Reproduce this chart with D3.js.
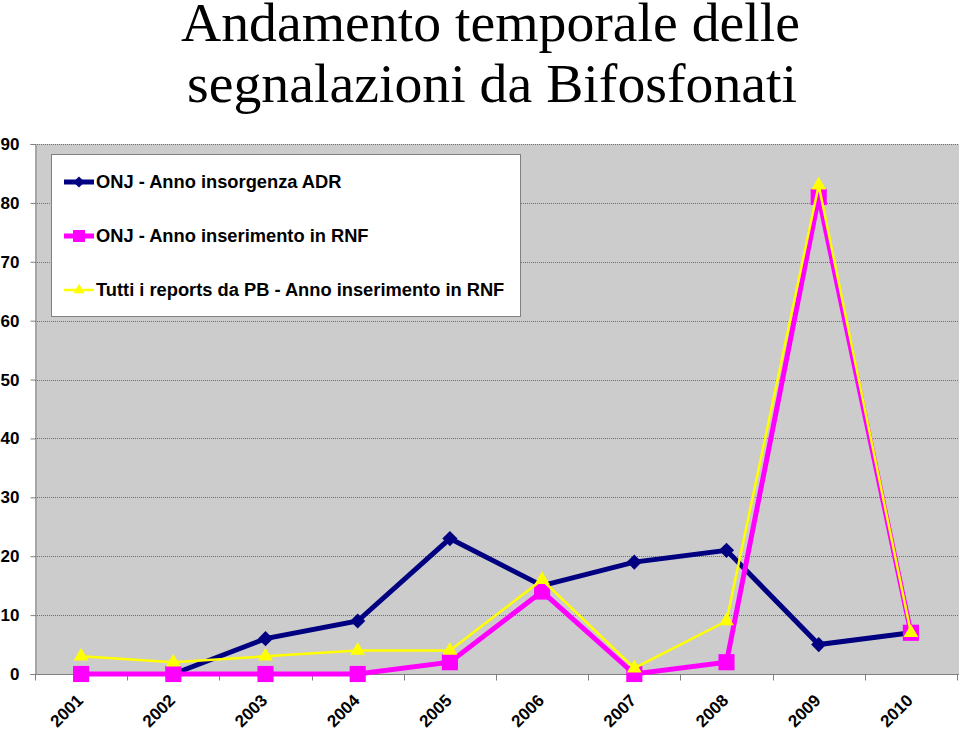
<!DOCTYPE html>
<html>
<head>
<meta charset="utf-8">
<script src="https://cdn.jsdelivr.net/npm/d3@7"></script>
<style>
  body { margin: 0; background: #fff; }
  svg { display: block; }
  .tick-label { font-family: "Liberation Sans", Arial, sans-serif; font-weight: bold; fill: #000; }
</style>
</head>
<body>
<div id="chart"></div>
<script>
// data
const years = ['2001', '2002', '2003', '2004', '2005', '2006', '2007', '2008', '2009', '2010'];
const onjAdr = [null, 0, 6, 9, 23, 15, 19, 21, 5, 7];
const onjRnf = [0, 0, 0, 0, 2, 14, 0, 2, 81, 7];
const tuttiPb = [3, 2, 3, 4, 4, 16, 1, 9, 83, 7];
const yTicks = [0, 10, 20, 30, 40, 50, 60, 70, 80, 90];
const titleLines = ['Andamento temporale delle', 'segnalazioni da Bifosfonati'];

const series = [
    { name: 'ONJ - Anno insorgenza ADR', values: onjAdr, color: '#000080', width: 5, marker: 'diamond', size: 115 },
    { name: 'ONJ - Anno inserimento in RNF', values: onjRnf, color: '#ff00ff', width: 5, marker: 'square', size: 260 },
    { name: 'Tutti i reports da PB - Anno inserimento in RNF', values: tuttiPb, color: '#ffff00', width: 2.5, marker: 'triangle', size: 95 }
];

const width = 959, height = 731;
const plot = { left: 35, right: 957, top: 144, bottom: 674 };

const svg = d3.select('#chart').append('svg')
    .attr('width', width)
    .attr('height', height);

// title
const titleBox = [{ y: 41, x0: 181, len: 619 }, { y: 102, x0: 187, len: 610 }];
svg.selectAll('.title')
    .data(titleLines)
    .enter().append('text')
    .attr('class', 'title')
    .attr('x', (d, i) => titleBox[i].x0)
    .attr('y', (d, i) => titleBox[i].y)
    .attr('textLength', (d, i) => titleBox[i].len)
    .attr('lengthAdjust', 'spacingAndGlyphs')
    .style('font-family', '"Liberation Serif", "Times New Roman", serif')
    .style('font-size', '54px')
    .text(d => d);

// scales
const x = d3.scaleBand().domain(years).range([plot.left, plot.right]);
const y = d3.scaleLinear().domain([0, 90]).range([plot.bottom, plot.top]);

// plot background
svg.append('rect')
    .attr('x', plot.left)
    .attr('y', plot.top)
    .attr('width', width - plot.left)
    .attr('height', plot.bottom - plot.top)
    .attr('fill', '#cccccc');

// gridlines
svg.append('g')
    .selectAll('line')
    .data(yTicks.filter(d => d > 0))
    .enter().append('line')
    .attr('x1', plot.left)
    .attr('x2', width)
    .attr('y1', d => Math.round(y(d)) + 0.5)
    .attr('y2', d => Math.round(y(d)) + 0.5)
    .attr('stroke', '#707070')
    .attr('stroke-width', 1)
    .attr('stroke-dasharray', '1,1');

// y axis
const gy = svg.append('g')
    .attr('transform', `translate(${plot.left + 0.5},0)`)
    .call(d3.axisLeft(y).tickValues(yTicks).tickSize(5).tickPadding(11));
gy.select('.domain').attr('stroke', '#808080');
gy.selectAll('.tick line').attr('stroke', '#808080');
gy.selectAll('.tick text')
    .attr('class', 'tick-label')
    .style('font-size', '17px');

// x axis
const gx = svg.append('g')
    .attr('transform', `translate(0,${plot.bottom + 0.5})`);
gx.append('line')
    .attr('x1', plot.left).attr('x2', width)
    .attr('stroke', '#808080');
gx.selectAll('.xtick')
    .data(years.concat(['end']))
    .enter().append('line')
    .attr('class', 'xtick')
    .attr('x1', d => Math.round(d === 'end' ? plot.right : x(d)) + 0.5)
    .attr('x2', d => Math.round(d === 'end' ? plot.right : x(d)) + 0.5)
    .attr('y1', 0).attr('y2', 6)
    .attr('stroke', '#808080');
gx.selectAll('.xlabel')
    .data(years)
    .enter().append('text')
    .attr('class', 'tick-label')
    .attr('text-anchor', 'end')
    .attr('transform', d => `translate(${x(d) + x.bandwidth() / 2 + 3},${27}) rotate(-45)`)
    .style('font-size', '17px')
    .text(d => d);

// lines + markers
const line = d3.line()
    .defined(d => d.v !== null)
    .x(d => x(d.year) + x.bandwidth() / 2)
    .y(d => y(d.v));

// diamond = square turned 45 degrees (Excel style)
const symbolType = { diamond: d3.symbolSquare, square: d3.symbolSquare, triangle: d3.symbolTriangle };
const symbolRot = { diamond: 45, square: 0, triangle: 0 };

series.forEach(s => {
    const pts = years.map((yr, i) => ({ year: yr, v: s.values[i] }));
    const g = svg.append('g');

    g.append('path')
        .datum(pts)
        .attr('d', line)
        .attr('fill', 'none')
        .attr('stroke', s.color)
        .attr('stroke-width', s.width)
        .attr('stroke-linejoin', 'miter');

    g.selectAll('.marker')
        .data(pts.filter(d => d.v !== null))
        .enter().append('path')
        .attr('class', 'marker')
        .attr('d', d3.symbol().type(symbolType[s.marker]).size(s.size))
        .attr('transform', d => `translate(${x(d.year) + x.bandwidth() / 2},${y(d.v)}) rotate(${symbolRot[s.marker]})`)
        .attr('fill', s.color);
});

// legend
const legend = svg.append('g').attr('transform', 'translate(51,154)');
legend.append('rect')
    .attr('x', 0.5).attr('y', 0.5)
    .attr('width', 469).attr('height', 162)
    .attr('fill', '#fff')
    .attr('stroke', '#808080');

const item = legend.selectAll('.item')
    .data(series)
    .enter().append('g')
    .attr('transform', (d, i) => `translate(0,${28 + i * 54})`);
item.append('line')
    .attr('x1', 13).attr('x2', 43)
    .attr('stroke', d => d.color)
    .attr('stroke-width', d => d.width);
item.append('path')
    .attr('d', d => d3.symbol().type(symbolType[d.marker]).size(d.size * 0.55)())
    .attr('transform', d => `translate(28,0) rotate(${symbolRot[d.marker]})`)
    .attr('fill', d => d.color);
item.append('text')
    .attr('class', 'tick-label')
    .attr('x', 45)
    .attr('dy', '0.35em')
    .style('font-size', '18.3px')
    .text(d => d.name);
</script>
</body>
</html>
